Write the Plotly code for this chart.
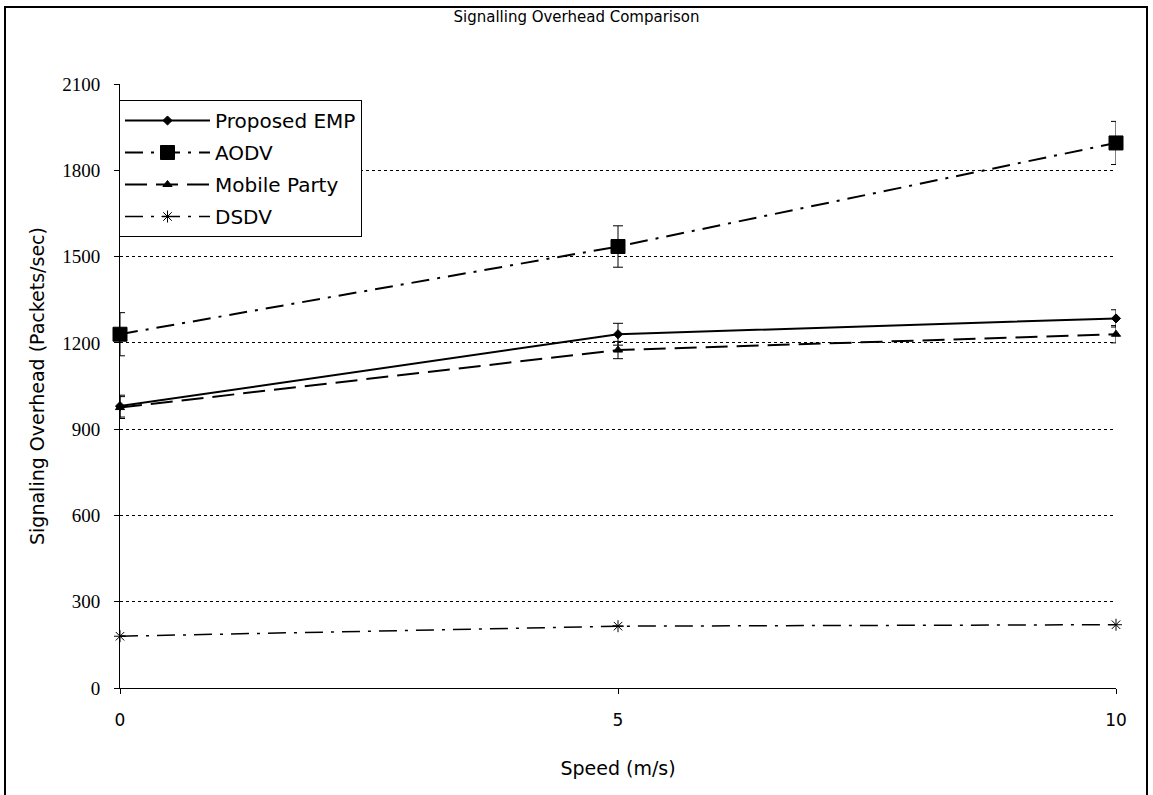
import plotly.graph_objects as go

speed = [0, 5, 10]
emp = [980, 1230, 1285]
emp_err = [38, 38, 30]
aodv = [1230, 1535, 1895]
aodv_err = [75, 72, 75]
mobile = [975, 1175, 1230]
mobile_err = [38, 30, 30]
dsdv = [180, 215, 220]
dsdv_err = [0, 0, 0]

y_ticks = [0, 300, 600, 900, 1200, 1500, 1800, 2100]
x_ticks = [0, 5, 10]

fig = go.Figure()

def add(name, y, err, dash, symbol, size, width):
    fig.add_trace(go.Scatter(
        x=speed, y=y, name=name, mode="lines+markers", legendgroup=name,
        line=dict(color="black", width=width, dash=dash),
        marker=dict(symbol=symbol, size=size, color="black",
                    line=dict(color="black", width=1)),
        error_y=dict(type="data", array=err, visible=True, color="black",
                     thickness=1, width=5),
        cliponaxis=False,
    ))

add("Proposed EMP", emp, emp_err, "solid", "diamond", 7, 2)
add("AODV", aodv, aodv_err, "18px,8px,3px,8px", "square", 14, 2)
add("Mobile Party", mobile, mobile_err, "22px,9px", "triangle-up", 8, 2)
add("DSDV", dsdv, dsdv_err, "18px,8px,3px,8px", "asterisk-open", 10, 1.5)

W, H = 1153, 795
L, R, T, B = 120, 37, 84, 107
pw, ph = W - L - R, H - T - B

def px(x):
    return (x - L) / pw

def py(y):
    return (H - B - y) / ph

SANS = "DejaVu Sans, Liberation Sans, Arial"

fig.add_shape(type="rect", xref="paper", yref="paper",
              x0=px(5), x1=px(1147), y0=py(800), y1=py(7),
              line=dict(color="black", width=2), layer="below")

fig.update_layout(
    width=W, height=H,
    margin=dict(l=L, r=R, t=T, b=B),
    paper_bgcolor="white", plot_bgcolor="white",
    font=dict(family=SANS, color="black", size=16),
    title=dict(text="Signalling Overhead Comparison", x=0.5, xref="container",
               y=1 - 17 / H, yref="container", yanchor="middle",
               font=dict(size=15, family=SANS)),
    xaxis=dict(range=[0, 10], tickvals=x_ticks, ticks="outside", ticklen=5,
               tickcolor="black", showline=True, linecolor="black", linewidth=1,
               showgrid=False, zeroline=False, ticklabelstandoff=12,
               tickfont=dict(size=17, family=SANS),
               title=dict(text="Speed (m/s)", standoff=32,
                          font=dict(size=19, family=SANS))),
    yaxis=dict(range=[0, 2100], tickvals=y_ticks, ticks="outside", ticklen=5,
               tickcolor="black", showline=True, linecolor="black", linewidth=1,
               showgrid=True, gridcolor="black", gridwidth=1, griddash="dot",
               zeroline=False, ticklabelstandoff=10,
               tickfont=dict(size=19, family="Liberation Serif, Times New Roman"),
               title=dict(text="Signaling Overhead (Packets/sec)", standoff=12,
                          font=dict(size=19, family=SANS))),
    legend=dict(x=px(119), y=py(100), xanchor="left", yanchor="top",
                bgcolor="white", bordercolor="black", borderwidth=1,
                font=dict(size=20, family=SANS),
                itemwidth=85, tracegroupgap=3),
    showlegend=True,
)

fig.write_html("out.html", config={"displayModeBar": False},
               post_script="document.body.style.margin='0px';")
